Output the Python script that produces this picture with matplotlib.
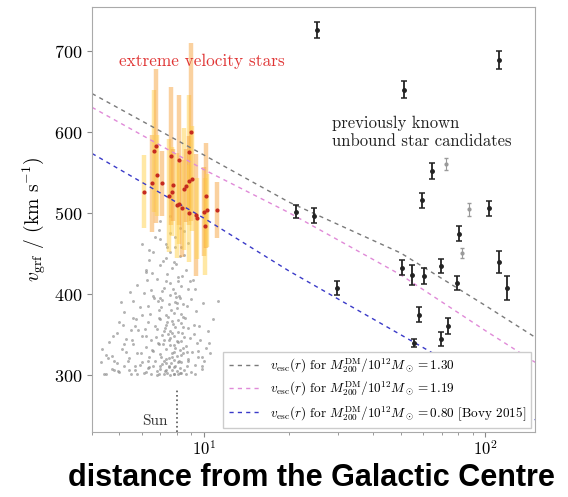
import matplotlib
matplotlib.use("Agg")
import matplotlib.pyplot as plt

plt.rcParams.update({
    "font.family": "serif",
    "font.serif": ["cmr10", "DejaVu Serif"],
    "mathtext.fontset": "cm",
    "axes.unicode_minus": False,
    "axes.formatter.use_mathtext": True,
})

# Escape-velocity curves (km/s) at galactocentric distances r (kpc)
curve_r = [4, 10, 20, 50, 100, 150]
vesc_high = [648, 572, 514, 451, 386, 347]
vesc_mid = [631, 554, 501, 424, 355, 316]
vesc_bovy = [574, 494, 429, 350, 290, 245]
curve_labels = [
    r"$v_{\rm esc}(r)$ for $M^{\rm DM}_{200}/10^{12}M_\odot = 1.30$",
    r"$v_{\rm esc}(r)$ for $M^{\rm DM}_{200}/10^{12}M_\odot = 1.19$",
    r"$v_{\rm esc}(r)$ for $M^{\rm DM}_{200}/10^{12}M_\odot = 0.80$ [Bovy 2015]",
]

# Bulk of the high-velocity sample
bg_r = [4.4, 4.7, 5.0, 5.2, 5.5, 5.7, 5.9, 6.1, 6.3, 6.5, 6.6, 6.8, 6.9, 7.0, 7.1, 7.2,
        7.3, 7.4, 7.5, 7.6, 7.7, 7.8, 7.9, 8.0, 8.1, 8.2, 8.3, 8.5, 8.7, 9.0, 9.3, 9.8,
        4.5, 4.8, 5.1, 5.4, 5.6, 5.8, 6.0, 6.2, 6.4, 6.6, 6.7, 6.9, 7.0, 7.2, 7.3, 7.5,
        7.6, 7.7, 7.8, 7.9, 8.0, 8.1, 8.2, 8.4, 8.6, 8.8, 9.1, 9.5, 10.2,
        4.9, 5.3, 5.7, 6.0, 6.3, 6.5, 6.8, 7.0, 7.1, 7.3, 7.5, 7.6, 7.7, 7.8, 7.9, 8.0,
        8.1, 8.3, 8.5, 8.8, 9.2, 9.7,
        5.2, 5.6, 6.0, 6.3, 6.6, 6.9, 7.1, 7.3, 7.5, 7.6, 7.8, 7.9, 8.0, 8.2, 8.4, 8.7,
        9.0, 9.4, 10.8,
        5.8, 6.2, 6.5, 6.8, 7.0, 7.2, 7.4, 7.6, 7.7, 7.9, 8.1, 8.3, 8.6, 8.9, 9.3,
        6.6, 7.0, 7.3, 7.6, 7.9, 8.2, 8.5, 8.8,
        6.55, 6.75, 6.95, 7.05, 7.15, 7.25, 7.35, 7.45, 7.55, 7.65, 7.75, 7.85, 7.95,
        8.05, 8.15, 8.25, 8.35, 8.45, 7.1, 7.4, 7.7, 8.0, 8.3, 6.9, 7.2, 7.5, 7.8, 8.1,
        8.4, 7.0,
        4.3, 4.6, 5.0, 5.3, 5.5, 5.9, 6.1, 6.4, 9.6, 10.0, 10.4, 11.2, 4.8, 5.6, 6.2, 9.9,
        4.35, 4.55, 4.75, 4.95, 5.15, 5.35, 5.55, 5.75, 5.95, 6.15, 6.35, 6.45, 6.65, 6.85,
        7.05, 7.25, 7.45, 7.65, 7.85, 8.05, 8.25, 8.45, 8.65, 8.95, 9.25, 9.55, 9.85, 10.3,
        5.05, 5.45, 5.85, 6.25, 6.55, 6.85, 7.15, 7.35, 7.55, 7.75, 7.95, 8.15, 8.35, 8.55,
        8.75, 9.15, 9.45,
        6.0, 6.4, 6.7, 7.0, 7.3, 7.6, 7.9, 8.2, 8.5, 6.2, 6.9, 7.4, 7.8, 8.3,
        4.5, 4.9, 5.4, 5.8, 6.3, 6.8, 7.3, 7.8, 8.3, 8.8, 9.3, 9.8, 10.5, 4.7, 5.2, 5.7,
        6.2, 6.7, 7.2, 7.7, 8.2, 8.7]
bg_v = [302, 308, 304, 311, 301, 306, 313, 303, 309, 301, 312, 305, 302, 308, 314, 301,
        306, 303, 310, 300, 307, 302, 312, 305, 301, 309, 303, 306, 311, 304, 302, 308,
        325, 318, 333, 321, 338, 327, 316, 335, 322, 330, 318, 339, 326, 317, 333, 321,
        337, 328, 319, 334, 324, 316, 331, 327, 336, 320, 329, 323, 334,
        352, 345, 361, 348, 366, 343, 357, 369, 350, 362, 344, 355, 367, 349, 360, 342,
        354, 365, 347, 358, 351, 344,
        378, 392, 374, 386, 398, 381, 393, 375, 388, 399, 377, 390, 383, 396, 372, 385,
        394, 379, 370,
        412, 428, 405, 419, 436, 408, 425, 414, 433, 402, 421, 410, 430, 416, 407,
        452, 468, 445, 476, 458, 482, 449, 463,
        331, 347, 312, 384, 339, 358, 320, 372, 346, 315, 363, 329, 397,
        341, 318, 376, 352, 334, 404, 366, 323, 389, 342, 371, 355, 311, 337, 417,
        360, 395,
        316, 341, 366, 329, 356, 384, 401, 442, 361, 317, 340, 392, 306, 371, 349, 389,
        333, 321, 348, 305, 362, 317, 344, 369, 328, 357, 310, 376, 395, 340,
        323, 305, 351, 381, 310, 368, 325, 388, 301, 346, 362, 330, 311, 355,
        391, 403, 356, 418, 426, 392, 441, 416, 452, 406, 437, 398, 423, 371,
        407, 418, 340,
        462, 455, 471, 491, 462, 497, 471, 447, 478, 430, 480, 458, 440, 458,
        301, 315, 306, 302, 317, 300, 315, 301, 316, 318, 313, 322, 328, 324, 339, 311,
        304, 361, 343, 352, 303, 329]

# Extreme velocity stars
ev_r = [6.11, 6.53, 6.64, 6.75, 6.8, 7.09, 7.5, 7.63, 7.7, 7.76, 8.02, 8.15, 8.15, 8.35,
        8.49, 8.63, 8.85, 8.85, 8.85, 8.99, 9.06, 9.37, 9.44, 10.0, 10.1, 10.2, 10.25, 11.1]
ev_v = [527, 537, 577, 583, 547, 537, 522, 571, 527, 535, 510, 566, 512, 506,
        530, 534, 576, 540, 500, 600, 543, 498, 494, 502, 484, 522, 504, 504]
ev_err = [45, 60, 75, 95, 50, 40, 70, 85, 55, 45, 65, 80, 50, 60,
          75, 45, 70, 55, 60, 110, 65, 75, 50, 55, 60, 65, 45, 35]

# Previously known unbound star candidates
pk_r = [25.2, 51.5, 112, 64.3, 59.7, 103, 80.2, 112, 119, 50.7, 55, 60.6, 69.6, 79.4,
        58.2, 73.3, 69.6, 55.5, 21.2, 24.6, 29.7]
pk_v = [727, 653, 689, 552, 516, 506, 475, 440, 408, 433, 424, 423, 435, 414,
        375, 361, 345, 340, 502, 497, 408]
pk_err = [10, 11, 11, 10, 9, 9, 9, 14, 15, 9, 12, 10, 9, 9,
          9, 10, 9, 5, 8, 9, 9]
faint_r = [72.6, 87.7, 82.8]
faint_v = [561, 505, 451]
faint_err = [8, 8, 6]

sun_r = 8.0

fig = plt.figure(figsize=(5.68, 4.97), dpi=100)
ax = fig.add_axes([0.162, 0.131, 0.780, 0.855])
ax.set_xscale("log")
ax.set_xlim(4, 150)
ax.set_ylim(230, 755)

ax.scatter(bg_r, bg_v, s=4.5, color="#8a8a8a", alpha=0.65, linewidths=0, zorder=1)

bar_cols = ["#ffd24d", "#f7a440"]
for i, (r, v, e) in enumerate(zip(ev_r, ev_v, ev_err)):
    ax.errorbar(r, v, yerr=e, fmt="none", ecolor=bar_cols[i % 2], elinewidth=3.2,
                alpha=0.5, zorder=2)
ax.scatter(ev_r, ev_v, s=9, color="#c62a1f", zorder=3, linewidths=0)

ax.errorbar(faint_r, faint_v, yerr=faint_err, fmt="o", ms=2, color="#9a9a9a",
            elinewidth=0.8, capsize=1.5, zorder=3)
ax.errorbar(pk_r, pk_v, yerr=pk_err, fmt="o", ms=2.5, color="#222222",
            elinewidth=1.3, capsize=2, capthick=1.1, zorder=4)

ax.plot(curve_r, vesc_high, ls=(0, (3, 3)), lw=1.0, color="#7a7a7a", label=curve_labels[0], zorder=2)
ax.plot(curve_r, vesc_mid, ls=(0, (3, 3)), lw=1.0, color="#e08ad8", label=curve_labels[1], zorder=2)
ax.plot(curve_r, vesc_bovy, ls=(0, (3, 3)), lw=1.0, color="#3a3ac8", label=curve_labels[2], zorder=2)

ax.plot([sun_r, sun_r], [230, 282], ls=":", lw=1.2, color="#555555", zorder=2)
ax.text(sun_r * 0.93, 243, "Sun", ha="right", va="center", fontsize=11, color="#333333")

ax.text(5.0, 688, "extreme velocity stars", color="#e03535", fontsize=12.4,
        ha="left", va="center")
ax.text(28.5, 600, "previously known\nunbound star candidates", color="#222222",
        fontsize=12, ha="left", va="center", linespacing=1.25)

leg = ax.legend(loc="lower right", fontsize=9.5, frameon=True, borderaxespad=0.3,
                handlelength=2.3, labelspacing=0.4, framealpha=1, edgecolor="#cccccc",
                fancybox=False)
leg.set_zorder(5)

ax.set_ylabel(r"$v_{\rm grf}$ / (km s$^{-1}$)", fontsize=14)
ax.set_yticks([300, 400, 500, 600, 700])
ax.tick_params(axis="y", labelsize=13, color="#888888")
ax.tick_params(axis="x", which="both", labelsize=12, pad=2, color="#888888")
for sp in ax.spines.values():
    sp.set_color("#aaaaaa")
    sp.set_linewidth(0.8)

fig.text(0.548, 0.022, "distance from the Galactic Centre", ha="center", va="baseline",
         fontsize=22, fontweight="bold", family="Liberation Sans")

fig.savefig("out.png", dpi=100)
